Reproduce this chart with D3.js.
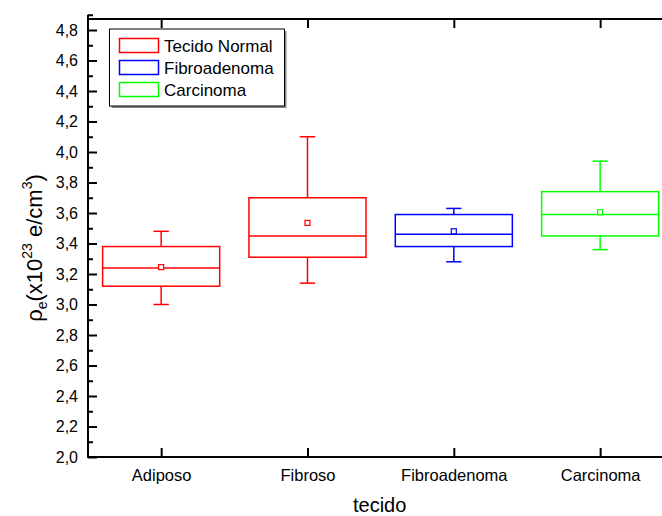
<!DOCTYPE html>
<html>
<head>
<meta charset="utf-8">
<script src="https://cdn.jsdelivr.net/npm/d3@7/dist/d3.min.js"></script>
<style>
  html, body { margin: 0; padding: 0; background: #fff; }
  svg { display: block; }
  text { font-family: "Liberation Sans", Arial, Helvetica, sans-serif; fill: #000; }
</style>
</head>
<body>
<svg id="chart" width="662" height="516"></svg>
<script>
// ---- data ----
const categories = ["Adiposo", "Fibroso", "Fibroadenoma", "Carcinoma"];
const groupOf = ["Tecido Normal", "Tecido Normal", "Fibroadenoma", "Carcinoma"];
const whiskerLow = [3.00, 3.14, 3.28, 3.36];
const q1 = [3.12, 3.31, 3.38, 3.45];
const median = [3.24, 3.45, 3.46, 3.59];
const q3 = [3.38, 3.70, 3.59, 3.74];
const whiskerHigh = [3.48, 4.10, 3.63, 3.94];
const mean = [3.245, 3.535, 3.48, 3.605];
const legendGroups = ["Tecido Normal", "Fibroadenoma", "Carcinoma"];
const legendColors = ["#ff0000", "#0000ff", "#00ff00"];
const yTickValues = [2.0, 2.2, 2.4, 2.6, 2.8, 3.0, 3.2, 3.4, 3.6, 3.8, 4.0, 4.2, 4.4, 4.6, 4.8];
const yMinorValues = [2.1, 2.3, 2.5, 2.7, 2.9, 3.1, 3.3, 3.5, 3.7, 3.9, 4.1, 4.3, 4.5, 4.7, 4.9];

const svg = d3.select("#chart");
const color = d3.scaleOrdinal().domain(legendGroups).range(legendColors);

const left = 88, right = 673.3, bottom = 457, topFrame = 19;
const x = d3.scaleLinear().domain([0.5, 4.5]).range([left, right]);
const y = d3.scaleLinear().domain([2.0, 4.8]).range([bottom, 30]);

const fmt = d => d3.format(".1f")(d).replace(".", ",");

// boxes
const boxW = x(1.4) - x(1.0);
const capW = x(1.0525) - x(1.0);
const g = svg.append("g");
categories.forEach((c, i) => {
  const cx = x(i + 1);
  const col = color(groupOf[i]);
  const bg = g.append("g").attr("stroke", col).attr("stroke-width", 1.5).attr("fill", "none");
  bg.append("line").attr("x1", cx).attr("x2", cx).attr("y1", y(q3[i])).attr("y2", y(whiskerHigh[i]));
  bg.append("line").attr("x1", cx).attr("x2", cx).attr("y1", y(q1[i])).attr("y2", y(whiskerLow[i]));
  bg.append("line").attr("x1", cx - capW).attr("x2", cx + capW).attr("y1", y(whiskerHigh[i])).attr("y2", y(whiskerHigh[i]));
  bg.append("line").attr("x1", cx - capW).attr("x2", cx + capW).attr("y1", y(whiskerLow[i])).attr("y2", y(whiskerLow[i]));
  bg.append("rect").attr("x", cx - boxW).attr("width", 2 * boxW)
    .attr("y", y(q3[i])).attr("height", y(q1[i]) - y(q3[i]));
  bg.append("line").attr("x1", cx - boxW).attr("x2", cx + boxW).attr("y1", y(median[i])).attr("y2", y(median[i]));
  bg.append("rect").attr("x", cx - 2.5).attr("y", y(mean[i]) - 2.5).attr("width", 5).attr("height", 5)
    .attr("stroke-width", 1.2).attr("fill", "#fff");
});

// axes frame
const ax = svg.append("g").attr("stroke", "#000").attr("fill", "none");
ax.append("line").attr("x1", left).attr("x2", left).attr("y1", y(4.9)).attr("y2", bottom + 1).attr("stroke-width", 2);
ax.append("line").attr("x1", left - 1).attr("x2", right).attr("y1", bottom).attr("y2", bottom).attr("stroke-width", 2);
ax.append("line").attr("x1", left - 1).attr("x2", right).attr("y1", topFrame).attr("y2", topFrame).attr("stroke-width", 2);
ax.append("line").attr("x1", right).attr("x2", right).attr("y1", topFrame).attr("y2", bottom).attr("stroke-width", 2);

// y axis
const yAxis = d3.axisLeft(y).tickValues(yTickValues).tickSize(-9).tickPadding(10).tickFormat(fmt);
const yg = svg.append("g").attr("transform", `translate(${left},0)`).call(yAxis);
yg.select(".domain").remove();
yg.selectAll(".tick line").attr("stroke", "#000").attr("stroke-width", 2);
yg.selectAll(".tick text").attr("font-size", 16).attr("font-family", "Liberation Sans, Arial, sans-serif").attr("fill", "#000");
const yMinor = d3.axisLeft(y).tickValues(yMinorValues).tickSize(-5).tickFormat("");
const ymg = svg.append("g").attr("transform", `translate(${left},0)`).call(yMinor);
ymg.select(".domain").remove();
ymg.selectAll(".tick line").attr("stroke", "#000").attr("stroke-width", 2);

// x axis
const xAxis = d3.axisBottom(x).tickValues([1, 2, 3, 4]).tickSize(-9).tickPadding(12)
  .tickFormat((d) => categories[d - 1]);
const xg = svg.append("g").attr("transform", `translate(0,${bottom})`).call(xAxis);
xg.select(".domain").remove();
xg.selectAll(".tick line").attr("stroke", "#000").attr("stroke-width", 2);
xg.selectAll(".tick text").attr("font-size", 16.5).attr("font-family", "Liberation Sans, Arial, sans-serif").attr("fill", "#000");
const xTop = d3.axisTop(x).tickValues([1, 2, 3, 4]).tickSize(-9).tickFormat("");
const xtg = svg.append("g").attr("transform", `translate(0,${topFrame})`).call(xTop);
xtg.select(".domain").remove();
xtg.selectAll(".tick line").attr("stroke", "#000").attr("stroke-width", 2);

// axis titles
svg.append("text").attr("x", (left + right) / 2 - 1).attr("y", 512).attr("text-anchor", "middle")
  .attr("font-size", 20).text("tecido");

const yt = svg.append("text").attr("transform", "translate(42,248) rotate(-90)")
  .attr("text-anchor", "middle").attr("font-size", 22);
yt.append("tspan").text("ρ");
yt.append("tspan").attr("font-size", 14).attr("dy", 5).text("e");
yt.append("tspan").attr("dy", -5).text("(x10");
yt.append("tspan").attr("font-size", 14).attr("dy", -10).text("23");
yt.append("tspan").attr("dy", 10).text(" e/cm");
yt.append("tspan").attr("font-size", 14).attr("dy", -10).text("3");
yt.append("tspan").attr("dy", 10).text(")");

// legend
const lg = svg.append("g");
lg.append("rect").attr("x", 111.5).attr("y", 31).attr("width", 175).attr("height", 77).attr("fill", "#888");
lg.append("rect").attr("x", 109.5).attr("y", 29).attr("width", 175).attr("height", 77)
  .attr("fill", "#fff").attr("stroke", "#000").attr("stroke-width", 1);
legendGroups.forEach((name, i) => {
  const yy = 38.5 + i * 22;
  lg.append("rect").attr("x", 119.5).attr("y", yy).attr("width", 39).attr("height", 14)
    .attr("fill", "#fff").attr("stroke", color(name)).attr("stroke-width", 1.5);
  lg.append("text").attr("x", 164).attr("y", yy + 13).attr("font-size", 17).text(name);
});
</script>
</body>
</html>
